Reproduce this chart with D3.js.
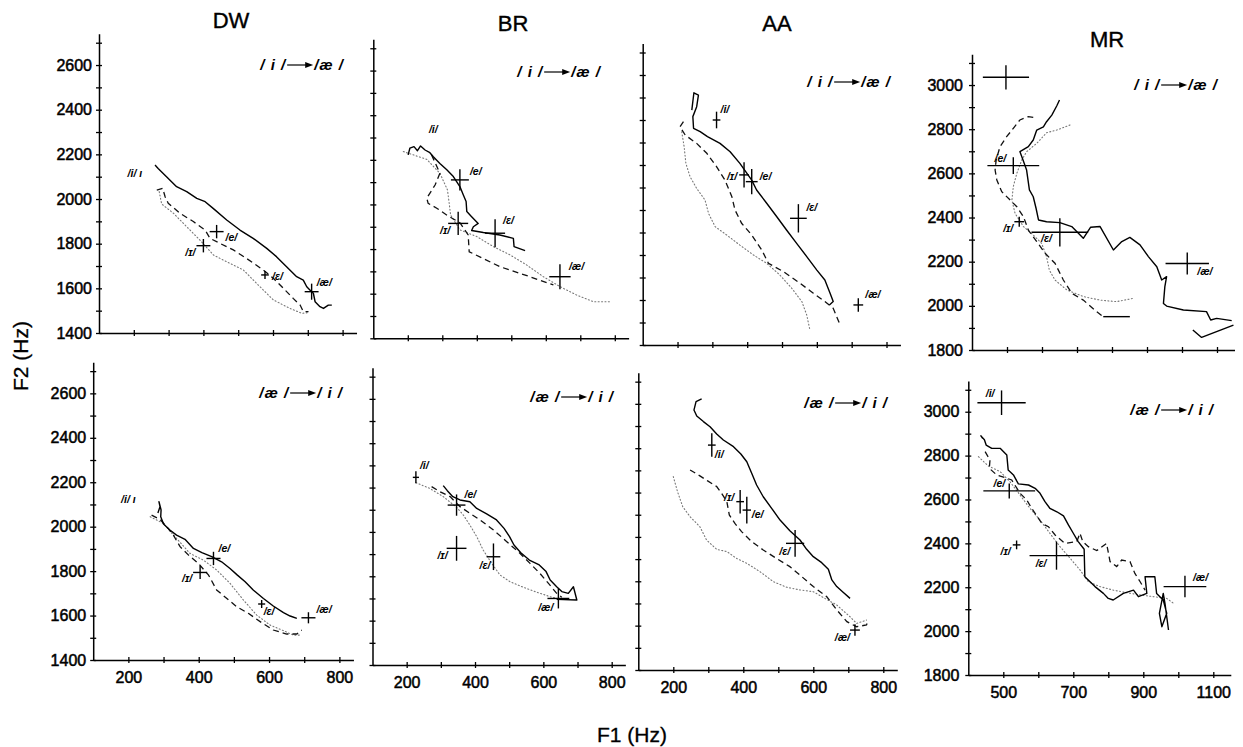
<!DOCTYPE html>
<html>
<head>
<meta charset="utf-8">
<script src="https://cdn.jsdelivr.net/npm/d3@7"></script>
<style>
  body { margin: 0; background: #fff; }
  svg { display: block; }
</style>
</head>
<body>
<svg id="chart" width="1243" height="747"></svg>
<script>
// ---------------------------------------------------------------
// Formant trajectories (F1, F2 in Hz) for four speakers, two glide
// directions each: /i/ -> /ae/ (upper row) and /ae/ -> /i/ (lower row).
// Three repetitions per panel: solid, dashed, dotted.
// Targets: [vowel, mean F1, mean F2, spread F1, spread F2]
// ---------------------------------------------------------------

const speakers = ["DW", "BR", "AA", "MR"];
const directions = [["/ i /", "/æ /"], ["/æ /", "/ i /"]];

// tick values / labels
const yTicksLow = d3.range(1400, 2701, 100);
const yLabelsLow = [1400, 1600, 1800, 2000, 2200, 2400, 2600];
const yTicksHigh = d3.range(1800, 3101, 100);
const yLabelsHigh = [1800, 2000, 2200, 2400, 2600, 2800, 3000];
const xTicksLow = [200, 300, 400, 500, 600, 700, 800];
const xLabelsLow = [200, 400, 600, 800];
const xTicksHigh = [500, 600, 700, 800, 900, 1000, 1100];
const xLabelsHigh = [500, 700, 900, 1100];

// ---- DW ----
const dwUpSolid = [[261,2152],[270,2137],[294,2100],[323,2055],[352,2033],[381,2003],[405,1988],[428,1958],[467,1906],[505,1861],[543,1824],[582,1779],[610,1742],[639,1697],[668,1652],[687,1637],[697,1607],[706,1593],[716,1578],[721,1540],[735,1518],[745,1510],[759,1525],[769,1525]];
const dwUpDashed = [[266,2040],[283,2048],[290,2010],[299,1981],[333,1936],[371,1899],[405,1861],[419,1824],[448,1801],[486,1772],[524,1734],[572,1682],[601,1645],[630,1600],[658,1555],[678,1525],[687,1496],[702,1496]];
const dwUpDotted = [[273,2033],[280,1978],[314,1936],[352,1876],[390,1816],[429,1749],[476,1712],[515,1682],[553,1622],[601,1548],[649,1510],[683,1488],[702,1491]];
const dwUpTargets = [["e",438,1854,20,30],["ɪ",400,1791,20,30],["ɛ",577,1660,11,18],["æ",711,1585,20,36]];
const dwUpStart = [203, 2100];

const dwDownSolid = [[284,2062],[290,2090],[287,2112],[293,2075],[292,2045],[300,2012],[318,1985],[337,1962],[361,1943],[385,1902],[409,1883],[437,1865],[465,1842],[489,1812],[510,1782],[532,1752],[555,1715],[584,1677],[612,1643],[641,1613],[660,1598],[679,1587]];
const dwDownDashed = [[266,2052],[290,2033],[309,2000],[328,1962],[347,1910],[371,1872],[399,1835],[428,1782],[451,1715],[480,1677],[508,1640],[541,1610],[579,1568],[612,1535],[650,1517],[679,1517],[693,1535]];
const dwDownDotted = [[262,2045],[299,2015],[337,1947],[375,1880],[413,1850],[451,1805],[489,1745],[527,1670],[565,1602],[603,1557],[641,1532],[669,1512],[688,1512]];
const dwDownTargets = [["e",442,1857,20,30],["ɪ",404,1794,20,30],["ɛ",579,1652,10,18],["æ",712,1590,20,25]];
const dwDownStart = [200, 2108];

// ---- BR ----
const brUpSolid = [[201,2222],[206,2252],[218,2259],[228,2241],[237,2262],[250,2244],[264,2232],[274,2214],[293,2184],[313,2155],[332,2125],[351,2080],[361,2042],[369,2013],[371,1968],[385,1945],[404,1915],[390,1900],[385,1883],[419,1874],[467,1863],[506,1848],[508,1811],[540,1793]];
const brUpDashed = [[269,2222],[293,2140],[279,2087],[255,2028],[259,2005],[284,1983],[317,1948],[351,1918],[375,1863],[378,1788],[467,1721],[554,1676],[622,1639]];
const brUpDotted = [[187,2237],[255,2202],[293,2140],[315,2065],[320,2005],[324,1953],[351,1886],[400,1856],[448,1811],[496,1774],[544,1729],[593,1676],[641,1632],[689,1594],[738,1564],[786,1564]];
const brUpTargets = [["e",351,2110,26,48],["ɪ",346,1915,29,52],["ɛ",453,1871,29,63],["æ",641,1676,31,56]];
const brUpStart = [274, 2319];

const brDownSolid = [[307,2209],[319,2186],[335,2159],[356,2144],[385,2136],[405,2106],[434,2081],[463,2054],[485,2016],[501,1979],[514,1941],[534,1906],[559,1873],[588,1851],[608,1821],[620,1783],[639,1753],[654,1731],[673,1723],[688,1753],[698,1693],[639,1696]];
const brDownDashed = [[273,2204],[298,2181],[327,2159],[356,2114],[385,2084],[415,2054],[454,2009],[493,1956],[532,1903],[561,1858],[590,1813],[615,1768],[639,1723],[654,1705]];
const brDownDotted = [[227,2222],[268,2196],[307,2159],[346,2111],[366,2076],[385,2031],[405,1979],[424,1918],[449,1858],[473,1806],[502,1776],[542,1750],[581,1728],[620,1708],[649,1696]];
const brDownTargets = [["i",227,2246,9,27],["e",346,2121,26,48],["ɪ",346,1926,29,56],["ɛ",454,1888,20,60],["æ",644,1700,32,45]];

// ---- AA ----
const aaUpSolid = [[241,2444],[247,2521],[260,2511],[255,2459],[244,2415],[246,2363],[265,2348],[286,2326],[322,2296],[351,2259],[379,2207],[413,2133],[427,2089],[456,2030],[485,1970],[513,1911],[542,1852],[571,1793],[600,1733],[623,1689],[638,1630],[647,1593],[636,1578]];
const aaUpDashed = [[217,2393],[207,2370],[222,2333],[255,2296],[284,2252],[312,2193],[336,2133],[356,2059],[365,2000],[384,1941],[413,1889],[442,1822],[461,1763],[504,1726],[552,1674],[590,1630],[623,1593],[647,1563],[657,1526],[667,1489]];
const aaUpDotted = [[212,2348],[219,2281],[224,2207],[236,2148],[255,2096],[279,2044],[289,1985],[308,1926],[341,1889],[379,1844],[418,1800],[456,1763],[494,1711],[528,1652],[557,1593],[571,1533],[580,1467]];
const aaUpTargets = [["i",312,2400,11,37],["ɪ",391,2156,14,56],["e",413,2126,17,56],["ɛ",547,1963,24,63],["æ",719,1578,14,30]];

const aaDownSolid = [[281,2622],[265,2610],[259,2572],[267,2545],[286,2520],[305,2497],[324,2464],[343,2437],[372,2407],[393,2374],[410,2339],[424,2287],[438,2234],[457,2181],[481,2129],[505,2076],[533,2028],[562,1986],[581,1944],[600,1911],[624,1884],[643,1854],[653,1806],[667,1776],[686,1749],[705,1723]];
const aaDownDashed = [[248,2302],[276,2275],[297,2254],[324,2227],[338,2197],[353,2159],[360,2099],[376,2061],[395,2024],[424,1979],[457,1941],[495,1903],[533,1866],[567,1821],[600,1776],[638,1731],[667,1671],[696,1618],[724,1595],[752,1603],[757,1625]];
const aaDownDotted = [[200,2272],[212,2204],[227,2136],[248,2091],[276,2046],[295,1986],[324,1944],[353,1934],[381,1903],[410,1881],[448,1843],[486,1798],[524,1773],[562,1761],[600,1753],[633,1723],[667,1693],[705,1640],[724,1610],[752,1625]];
const aaDownTargets = [["i",310,2414,11,53],["ɪ",391,2159,11,53],["e",410,2121,12,60],["ɛ",548,1971,26,60],["æ",719,1580,14,26]];

// ---- MR ----
const mrUpSolid = [[650,2932],[642,2905],[628,2864],[613,2834],[604,2811],[585,2796],[575,2751],[561,2721],[537,2698],[545,2664],[556,2615],[564,2525],[575,2494],[583,2442],[590,2389],[613,2381],[651,2377],[685,2359],[718,2306],[739,2356],[766,2359],[804,2253],[828,2291],[851,2310],[880,2276],[904,2223],[928,2177],[942,2117],[956,2132],[951,2087],[947,2011],[956,1999],[1004,1981],[1070,1974],[1082,1936],[1099,1943],[1142,1933]];
const mrUpSolidTail = [[1031,1891],[1056,1857],[1147,1913]];
const mrUpDashed = [[575,2854],[561,2857],[537,2842],[518,2804],[499,2766],[480,2721],[469,2661],[466,2615],[471,2570],[485,2517],[509,2479],[528,2449],[547,2404],[561,2343],[585,2291],[609,2238],[637,2193],[661,2117],[685,2057],[718,2026],[756,1974],[775,1951]];
const mrUpDashedTail = [[775,1951],[851,1951]];
const mrUpDotted = [[680,2819],[642,2796],[613,2784],[585,2736],[556,2698],[542,2660],[528,2600],[518,2540],[514,2479],[523,2419],[547,2359],[575,2321],[599,2283],[613,2223],[621,2162],[637,2117],[671,2072],[718,2042],[766,2026],[813,2019],[861,2034]];
const mrUpTargets = [["i",497,3035,66,55],["e",518,2635,74,38],["ɪ",535,2381,14,23],["ɛ",651,2333,81,64],["æ",1015,2192,62,50]];

const mrDownSolid = [[441,2879],[436,2890],[446,2872],[451,2848],[467,2833],[491,2833],[510,2803],[514,2734],[529,2712],[543,2671],[572,2666],[591,2651],[605,2628],[619,2590],[633,2560],[653,2544],[672,2525],[686,2484],[700,2446],[714,2408],[731,2373],[733,2248],[762,2203],[786,2172],[800,2149],[814,2142],[843,2172],[872,2187],[886,2157],[910,2172],[905,2248],[933,2248],[938,2172],[957,2142],[967,2081],[953,2020],[946,2081],[957,2172],[962,2125],[972,2005]];
const mrDownDashed = [[448,2818],[462,2780],[460,2742],[481,2712],[524,2689],[548,2628],[567,2598],[581,2560],[610,2491],[629,2476],[648,2438],[676,2400],[710,2408],[719,2446],[727,2408],[743,2385],[767,2367],[795,2400],[805,2317],[824,2294],[838,2324],[862,2317],[876,2263],[891,2225],[905,2187]];
const mrDownDotted = [[429,2795],[457,2753],[491,2727],[519,2681],[548,2620],[576,2560],[605,2506],[633,2446],[662,2385],[691,2332],[719,2279],[743,2225],[776,2203],[814,2187],[853,2175],[891,2165],[929,2157],[967,2149],[986,2127]];
const mrDownTargets = [["i",495,3041,69,56],["e",517,2639,74,34],["ɪ",538,2393,11,20],["ɛ",652,2344,77,64],["æ",1019,2203,61,49]];

// ---------------------------------------------------------------
// Page geometry of each panel: pixel of the axis origin and
// pixels per Hz along each axis, plus direction-tag spots.
// ---------------------------------------------------------------
const frames = {
  DW0: { left: 99,    kx: 0.348,  bottom: 333,   ky: 0.2233, tag: [344, 70] },
  DW1: { left: 93.2,  kx: 0.3517, bottom: 660,   ky: 0.2222, tag: [343, 398] },
  BR0: { left: 373.3, kx: 0.345,  bottom: 338.3, ky: 0.2231, tag: [601, 77] },
  BR1: { left: 372.5, kx: 0.3417, bottom: 665,   ky: 0.2218, tag: [614, 402] },
  AA0: { left: 642.7, kx: 0.3483, bottom: 345,   ky: 0.225,  tag: [891, 87] },
  AA1: { left: 638.3, kx: 0.35,   bottom: 670,   ky: 0.2218, tag: [888, 408] },
  MR0: { left: 972,   kx: 0.35,   bottom: 350,   ky: 0.2208, tag: [1218, 90] },
  MR1: { left: 968.3, kx: 0.35,   bottom: 675,   ky: 0.2194, tag: [1214, 415] }
};
const titlePos = { DW: [231, 28], BR: [513, 31], AA: [777, 31], MR: [1107, 47] };

// vowel-label offsets from each target centre: [dx, dy, anchor]
const labelOffsets = {
  DW0: { e: [9, 9, "start"], "ɪ": [-8, 10, "end"], "ɛ": [7, 5, "start"], "æ": [5, -6, "start"] },
  DW1: { e: [5, -6, "start"], "ɪ": [-8, 10, "end"], "ɛ": [2, 11, "start"], "æ": [8, -5, "start"] },
  BR0: { e: [10, -5, "start"], "ɪ": [-8, 11, "end"], "ɛ": [8, -9, "start"], "æ": [9, -7, "start"] },
  BR1: { i: [4, -8, "start"], e: [8, -7, "start"], "ɪ": [-9, 11, "end"], "ɛ": [-3, 12, "end"], "æ": [-5, 13, "end"] },
  AA0: { i: [4, -7, "start"], "ɪ": [-7, 5, "end"], e: [8, -2, "start"], "ɛ": [8, -7, "start"], "æ": [7, -7, "start"] },
  AA1: { i: [3, 13, "start"], "ɪ": [-6, -1, "end"], e: [5, 8, "start"], "ɛ": [-5, 12, "end"], "æ": [-5, 11, "end"] },
  MR0: { e: [-7, -4, "end"], "ɪ": [-6, 10, "end"], "ɛ": [-8, 10, "end"], "æ": [10, 12, "start"] },
  MR1: { i: [-7, -6, "end"], e: [-4, -4, "end"], "ɪ": [-6, 10, "end"], "ɛ": [-10, 11, "end"], "æ": [8, -6, "start"] }
};

const panels = [
  { sp: "DW", row: 0, solid: [dwUpSolid], dashed: [dwUpDashed], dotted: dwUpDotted, targets: dwUpTargets, start: dwUpStart, startText: "/i/ ı" },
  { sp: "DW", row: 1, solid: [dwDownSolid], dashed: [dwDownDashed], dotted: dwDownDotted, targets: dwDownTargets, start: dwDownStart, startText: "/i/ ı" },
  { sp: "BR", row: 0, solid: [brUpSolid], dashed: [brUpDashed], dotted: brUpDotted, targets: brUpTargets, start: brUpStart, startText: "/i/" },
  { sp: "BR", row: 1, solid: [brDownSolid], dashed: [brDownDashed], dotted: brDownDotted, targets: brDownTargets, start: null },
  { sp: "AA", row: 0, solid: [aaUpSolid], dashed: [aaUpDashed], dotted: aaUpDotted, targets: aaUpTargets, start: null },
  { sp: "AA", row: 1, solid: [aaDownSolid], dashed: [aaDownDashed], dotted: aaDownDotted, targets: aaDownTargets, start: null },
  { sp: "MR", row: 0, solid: [mrUpSolid, mrUpSolidTail, mrUpDashedTail], dashed: [mrUpDashed], dotted: mrUpDotted, targets: mrUpTargets, start: null },
  { sp: "MR", row: 1, solid: [mrDownSolid], dashed: [mrDownDashed], dotted: mrDownDotted, targets: mrDownTargets, start: null }
];

const FONT = "'Liberation Sans', Arial, Helvetica, sans-serif";
const svg = d3.select("#chart");

panels.forEach(p => {
  const key = p.sp + p.row;
  const f = frames[key];
  const high = p.sp === "MR";
  const xDomain = high ? [400, 1150] : [100, 840];
  const yDomain = high ? [1800, 3140] : [1400, 2740];

  const x = d3.scaleLinear().domain(xDomain)
    .range([f.left, f.left + (xDomain[1] - xDomain[0]) * f.kx]);
  const y = d3.scaleLinear().domain(yDomain)
    .range([f.bottom, f.bottom - (yDomain[1] - yDomain[0]) * f.ky]);

  const g = svg.append("g").attr("class", "panel " + key);

  // ---- axes ----
  const showY = p.sp === "DW" || p.sp === "MR";
  const yLab = high ? yLabelsHigh : yLabelsLow;
  const yAxis = d3.axisLeft(y)
    .tickValues(high ? yTicksHigh : yTicksLow)
    .tickSizeInner(3).tickSizeOuter(0).tickPadding(high ? 6 : 4)
    .tickFormat(d => (showY && yLab.includes(d)) ? d : "");
  const gy = g.append("g").attr("transform", `translate(${x(xDomain[0])},0)`).call(yAxis);

  const xLab = high ? xLabelsHigh : xLabelsLow;
  const xAxis = d3.axisBottom(x)
    .tickValues(high ? xTicksHigh : xTicksLow)
    .tickSizeInner(3).tickSizeOuter(0).tickPadding(9)
    .tickFormat(d => (p.row === 1 && xLab.includes(d)) ? d : "");
  const gx = g.append("g").attr("transform", `translate(0,${y(yDomain[0])})`).call(xAxis);

  [gy, gx].forEach(ax => {
    ax.select(".domain").attr("stroke", "#000").attr("stroke-width", 1.5);
    ax.selectAll(".tick line").attr("stroke", "#000").attr("stroke-width", 1.3);
    ax.selectAll(".tick text").attr("fill", "#000")
      .style("font-family", FONT).style("font-size", "16px")
      .attr("stroke", "#000").attr("stroke-width", 0.5);
  });
  gy.selectAll(".tick line").attr("x1", 3).attr("x2", -3);
  gx.selectAll(".tick line").attr("y1", -3).attr("y2", 3);

  // ---- trajectories ----
  const line = d3.line().x(d => x(d[0])).y(d => y(d[1]));

  g.append("path").datum(p.dotted).attr("d", line)
    .attr("fill", "none").attr("stroke", "#777").attr("stroke-width", 1.1)
    .attr("stroke-dasharray", "1 2.4").attr("stroke-linecap", "round");

  p.dashed.forEach(seg => {
    g.append("path").datum(seg).attr("d", line)
      .attr("fill", "none").attr("stroke", "#111").attr("stroke-width", 1.3)
      .attr("stroke-dasharray", "6 4");
  });

  p.solid.forEach(seg => {
    g.append("path").datum(seg).attr("d", line)
      .attr("fill", "none").attr("stroke", "#000").attr("stroke-width", 1.4)
      .attr("stroke-linejoin", "round");
  });

  // ---- vowel targets (mean +/- spread crosses) ----
  const offs = labelOffsets[key];
  p.targets.forEach(t => {
    const [v, f1, f2, s1, s2] = t;
    const cx = x(f1), cy = y(f2);
    g.append("line").attr("x1", x(f1 - s1)).attr("x2", x(f1 + s1))
      .attr("y1", cy).attr("y2", cy).attr("stroke", "#000").attr("stroke-width", 1.4);
    g.append("line").attr("x1", cx).attr("x2", cx)
      .attr("y1", y(f2 - s2)).attr("y2", y(f2 + s2)).attr("stroke", "#000").attr("stroke-width", 1.4);
    const o = offs[v];
    if (o) {
      g.append("text").attr("x", cx + o[0]).attr("y", cy + o[1])
        .attr("text-anchor", o[2])
        .style("font-family", FONT).style("font-size", "10.5px")
        .style("font-style", "italic").style("font-weight", "bold")
        .text("/" + v + "/");
    }
  });

  if (p.start) {
    g.append("text").attr("x", x(p.start[0])).attr("y", y(p.start[1]))
      .attr("text-anchor", "middle")
      .style("font-family", FONT).style("font-size", "10.5px")
      .style("font-style", "italic").style("font-weight", "bold")
      .text(p.startText);
  }

  // ---- direction tag  /a/ --> /b/ ----
  const parts = directions[p.row];
  const tag = g.append("g");
  const styleTag = s => s.style("font-family", FONT).style("font-size", "15px")
    .style("font-style", "italic").style("font-weight", "bold")
    .style("letter-spacing", "1px");
  const ta = tag.append("text").text(parts[0]).call(styleTag);
  const tb = tag.append("text").text(parts[1]).call(styleTag);
  const wa = ta.node().getComputedTextLength();
  const wb = tb.node().getComputedTextLength();
  const arrowW = 26, gap = 1;
  const [rx, by] = f.tag;
  const x0 = rx - (wa + gap + arrowW + gap + wb);
  ta.attr("x", x0).attr("y", by);
  const ax0 = x0 + wa + gap;
  tag.append("line").attr("x1", ax0).attr("x2", ax0 + arrowW - 5)
    .attr("y1", by - 5).attr("y2", by - 5).attr("stroke", "#000").attr("stroke-width", 1.2);
  tag.append("path")
    .attr("d", `M${ax0 + arrowW - 8},${by - 8} L${ax0 + arrowW},${by - 5} L${ax0 + arrowW - 8},${by - 2} Z`)
    .attr("fill", "#000");
  tb.attr("x", ax0 + arrowW + gap).attr("y", by);
});

// ---- speaker titles ----
speakers.forEach(s => {
  svg.append("text").attr("x", titlePos[s][0]).attr("y", titlePos[s][1])
    .attr("text-anchor", "middle")
    .style("font-family", FONT).style("font-size", "22px")
    .attr("stroke", "#000").attr("stroke-width", 0.4)
    .text(s);
});

// ---- axis titles ----
svg.append("text").attr("x", 632).attr("y", 742).attr("text-anchor", "middle")
  .style("font-family", FONT).style("font-size", "21px")
  .attr("stroke", "#000").attr("stroke-width", 0.3).text("F1 (Hz)");
svg.append("text").attr("transform", "translate(28,356) rotate(-90)")
  .attr("text-anchor", "middle")
  .style("font-family", FONT).style("font-size", "21px")
  .attr("stroke", "#000").attr("stroke-width", 0.3).text("F2 (Hz)");
</script>
</body>
</html>
